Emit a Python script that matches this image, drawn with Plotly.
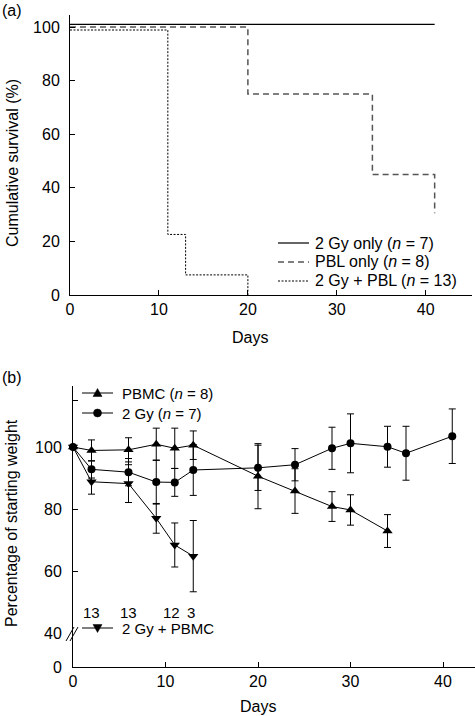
import plotly.graph_objects as go

W, H = 475, 716

def fx(px):
    return px / W

def fy(py):
    return 1 - py / H

# ---------------- Panel (a) data: survival (step curves) ----------------
gy_only_days = [0, 41]
gy_only_surv = [101, 101]

pbl_only_days = [0, 20, 34, 41, 41]
pbl_only_surv = [100, 75, 45, 45, 30.5]

gy_pbl_days = [0, 11, 13, 20, 20]
gy_pbl_surv = [98.9, 22.6, 7.5, 7.5, 0]

a_xticks = [0, 10, 20, 30, 40]
a_yticks = [0, 20, 40, 60, 80, 100]
a_legend_labels = ["2 Gy only (<i>n</i> = 7)", "PBL only (<i>n</i> = 8)", "2 Gy + PBL (<i>n</i> = 13)"]

# ---------------- Panel (b) data: weight ----------------
pbmc_days = [0, 2, 6, 9, 11, 13, 20, 24, 28, 30, 34]
pbmc_wt = [100, 98.9, 99.1, 100.9, 99.6, 100.6, 90.6, 85.8, 80.8, 79.7, 72.9]
pbmc_err = [None, 3.4, 3.9, 5.2, 6.5, 4.6, 10.5, 7.2, 4.8, 4.9, 5.3]

gy_days = [0, 2, 6, 9, 11, 13, 20, 24, 28, 30, 34, 36, 41]
gy_wt = [100, 92.8, 91.9, 88.7, 88.6, 92.6, 93.3, 94.3, 99.6, 101.2, 100.1, 98.0, 103.5]
gy_err = [None, 2.8, 4.4, 7.1, 4.5, 8.2, 7.3, 5.2, 6.8, 9.5, 6.6, 8.7, 8.8]

gypbmc_days = [0, 2, 6, 9, 11, 13]
gypbmc_wt = [100, 88.8, 88.2, 77.0, 68.4, 64.8]
gypbmc_err = [None, 4.0, 6.1, 4.8, 7.1, 11.5]

b_legend_labels = ["PBMC (<i>n</i> = 8)", "2 Gy (<i>n</i> = 7)", "2 Gy + PBMC"]

n_labels = ["13", "13", "12", "3"]
n_label_days = [2, 6, 10.7, 12.8]

b_xticks = [0, 10, 20, 30, 40]
b_yticks_upper = [40, 60, 80, 100, 115]
b_yticks_upper_text = ["40", "60", "80", "100", ""]

FONT = "Liberation Sans, Arial, Helvetica, sans-serif"
FS = 16

fig = go.Figure()

# Panel (a)
fig.add_trace(go.Scatter(x=gy_only_days, y=gy_only_surv, mode="lines", line_shape="hv",
                         line=dict(color="black", width=1.2), name=a_legend_labels[0],
                         xaxis="x", yaxis="y", cliponaxis=False))
fig.add_trace(go.Scatter(x=pbl_only_days, y=pbl_only_surv, mode="lines", line_shape="hv",
                         line=dict(color="#555555", width=1.5, dash="6px,4px"), name=a_legend_labels[1],
                         xaxis="x", yaxis="y", cliponaxis=False))
fig.add_trace(go.Scatter(x=gy_pbl_days, y=gy_pbl_surv, mode="lines", line_shape="hv",
                         line=dict(color="black", width=1, dash="2px,1.5px"), name=a_legend_labels[2],
                         xaxis="x", yaxis="y", cliponaxis=False))

# Panel (b)
err_style = dict(type="data", visible=True, color="black", thickness=1, width=3.5)
fig.add_trace(go.Scatter(x=pbmc_days, y=pbmc_wt, mode="lines+markers",
                         line=dict(color="black", width=1),
                         marker=dict(symbol="triangle-up", size=9, color="black"),
                         error_y=dict(array=pbmc_err, **err_style),
                         name=b_legend_labels[0], xaxis="x2", yaxis="y2", cliponaxis=False))
fig.add_trace(go.Scatter(x=gy_days, y=gy_wt, mode="lines+markers",
                         line=dict(color="black", width=1),
                         marker=dict(symbol="circle", size=8, color="black"),
                         error_y=dict(array=gy_err, **err_style),
                         name=b_legend_labels[1], xaxis="x2", yaxis="y2", cliponaxis=False))
fig.add_trace(go.Scatter(x=gypbmc_days, y=gypbmc_wt, mode="lines+markers",
                         line=dict(color="black", width=1),
                         marker=dict(symbol="triangle-down", size=9, color="black"),
                         error_y=dict(array=gypbmc_err, **err_style),
                         name=b_legend_labels[2], xaxis="x2", yaxis="y2", cliponaxis=False))
# helper (empty) trace so that the lower broken-axis segment is drawn
fig.add_trace(go.Scatter(x=[None], y=[None], mode="lines", xaxis="x2", yaxis="y3",
                         hoverinfo="skip", showlegend=False))

axis_common = dict(showline=True, linecolor="black", linewidth=1, ticks="inside", ticklen=5,
                   tickcolor="black", showgrid=False, zeroline=False, automargin=False,
                   tickfont=dict(family=FONT, size=FS, color="black"))

fig.update_layout(
    width=W, height=H, margin=dict(l=0, r=0, t=0, b=0),
    paper_bgcolor="white", plot_bgcolor="white",
    font=dict(family=FONT, size=FS, color="black"),
    showlegend=False,
    xaxis=dict(domain=[fx(70), fx(472)], range=[0, 45.2], anchor="y",
               tickvals=a_xticks, ticklabelstandoff=0, **axis_common),
    yaxis=dict(domain=[fy(295), fy(15)], range=[0, 104.5], anchor="x",
               tickvals=a_yticks, ticklabelstandoff=6, **axis_common),
    xaxis2=dict(domain=[fx(73), fx(475)], range=[0, 43.46], anchor="y3",
                tickvals=b_xticks, ticklabelstandoff=0, **axis_common),
    yaxis2=dict(domain=[fy(633), fy(386)], range=[40, 119.7], anchor="x2",
                tickvals=b_yticks_upper, ticktext=b_yticks_upper_text, ticklabelstandoff=7,
                **axis_common),
    yaxis3=dict(domain=[fy(667), fy(633)], range=[0, 1], anchor="x2",
                tickvals=[0], ticktext=["0"], ticklabelstandoff=7, **axis_common),
)

def ann(text, x, y, **kw):
    fig.add_annotation(text=text, x=fx(x), y=fy(y), xref="paper", yref="paper",
                       showarrow=False, font=dict(family=FONT, size=kw.pop("size", FS), color="black"), **kw)

# Panel labels and axis titles
ann("(a)", 0, 10, xanchor="left", yanchor="middle")
ann("(b)", 0, 377, xanchor="left", yanchor="middle")
ann("Cumulative survival (%)", 12, 163, textangle=-90, xanchor="center", yanchor="middle")
ann("Days", 250, 337, xanchor="center", yanchor="middle")
ann("Percentage of starting weight", 11, 523, textangle=-90, xanchor="center", yanchor="middle")
ann("Days", 258, 706, xanchor="center", yanchor="middle")

# n labels (counts in 2 Gy + PBMC group)
for t, d in zip(n_labels, n_label_days):
    fig.add_annotation(text=t, x=d, y=fy(612), xref="x2", yref="paper", showarrow=False,
                       xanchor="center", yanchor="middle", font=dict(family=FONT, size=15, color="black"))

# Legend (a): keys + labels
a_key_styles = [dict(color="black", width=1.2),
                dict(color="#555555", width=1.5, dash="6px,4px"),
                dict(color="black", width=1, dash="2px,1.5px")]
a_rows = [243, 262, 281]
for lab, st, ry in zip(a_legend_labels, a_key_styles, a_rows):
    fig.add_shape(type="line", xref="paper", yref="paper", x0=fx(278), x1=fx(309),
                  y0=fy(ry), y1=fy(ry), line=st)
    ann(lab, 313, ry, xanchor="left", yanchor="middle", size=16)

# Legend (b): keys + labels
b_rows = [393, 413, 628]
for lab, ry in zip(b_legend_labels, b_rows):
    fig.add_shape(type="line", xref="paper", yref="paper", x0=fx(82), x1=fx(113),
                  y0=fy(ry), y1=fy(ry), line=dict(color="black", width=1))
    ann(lab, 120, ry, xanchor="left", yanchor="middle", size=15)

cx = 97.5
# triangle-up key
ry = b_rows[0]
fig.add_shape(type="path", xref="paper", yref="paper", fillcolor="black", line=dict(color="black", width=0.5),
              path=f"M{fx(cx-4.5)},{fy(ry+3.5)} L{fx(cx+4.5)},{fy(ry+3.5)} L{fx(cx)},{fy(ry-4.5)} Z")
# circle key
ry = b_rows[1]
fig.add_shape(type="circle", xref="paper", yref="paper", fillcolor="black", line=dict(color="black", width=0.5),
              x0=fx(cx-4), x1=fx(cx+4), y0=fy(ry+4), y1=fy(ry-4))
# triangle-down key
ry = b_rows[2]
fig.add_shape(type="path", xref="paper", yref="paper", fillcolor="black", line=dict(color="black", width=0.5),
              path=f"M{fx(cx-4.5)},{fy(ry-3.5)} L{fx(cx+4.5)},{fy(ry-3.5)} L{fx(cx)},{fy(ry+4.5)} Z")

# Axis break marks
for dx in (0, 4):
    fig.add_shape(type="line", xref="paper", yref="paper",
                  x0=fx(66 + dx), y0=fy(641), x1=fx(74 + dx), y1=fy(627),
                  line=dict(color="black", width=1))

fig.write_html("out.html",
               config={"displayModeBar": False, "staticPlot": True},
               post_script="document.body.style.margin='0';document.body.style.padding='0';"
                           "document.body.style.overflow='hidden';")
